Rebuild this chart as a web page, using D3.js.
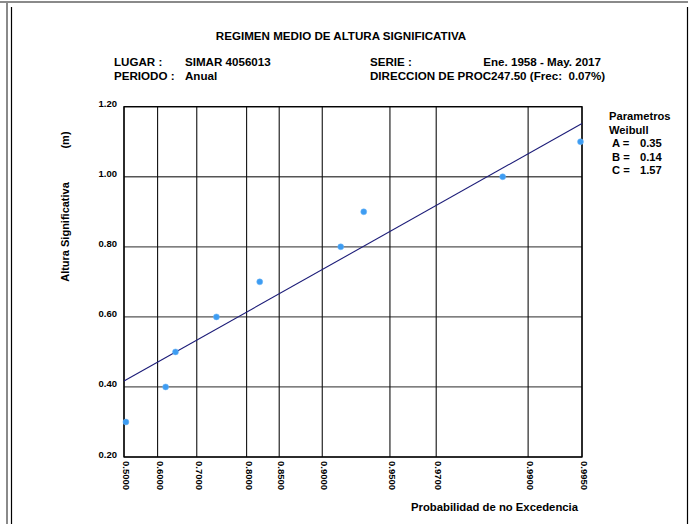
<!DOCTYPE html>
<html>
<head>
<meta charset="utf-8">
<script src="https://cdn.jsdelivr.net/npm/d3@7"></script>
<style>
  html, body { margin: 0; padding: 0; background: #fff; }
  svg { display: block; }
  text { font-family: "Liberation Sans", Arial, sans-serif; font-weight: bold; fill: #000; white-space: pre; }
</style>
</head>
<body>
<svg id="chart" width="692" height="524"></svg>
<script>
// ---- data ----
const titleText = "REGIMEN MEDIO DE ALTURA SIGNIFICATIVA";
const headerLeftLabels = ["LUGAR :", "PERIODO :"];
const headerLeftValues = ["SIMAR 4056013", "Anual"];
const headerRightLabels = ["SERIE :", "DIRECCION DE PROC247.50 (Frec:  0.07%)"];
const headerRightValues = ["Ene. 1958 - May. 2017", ""];

const xTickProbs = [0.5, 0.6, 0.7, 0.8, 0.85, 0.9, 0.95, 0.97, 0.99, 0.995];
const yTicks = [0.2, 0.4, 0.6, 0.8, 1.0, 1.2];

// observed points (probability of non-exceedance, Hs in m)
const pointProbs = [0.506, 0.622, 0.648, 0.743, 0.8215, 0.9167, 0.9341, 0.9863, 0.9949];
const pointHs    = [0.30, 0.40, 0.50, 0.60, 0.70, 0.80, 0.90, 1.00, 1.10];

// fitted Weibull line (end points)
const lineProbs = [0.5, 0.995];
const lineHs    = [0.417, 1.152];

const paramNames  = ["A =", "B =", "C ="];
const paramValues = ["0.35", "0.14", "1.57"];
const weibullC = 1.57;

// ---- drawing ----
const svg = d3.select("#chart");

// outer frame
svg.append("line").attr("x1", 0).attr("x2", 688).attr("y1", 2).attr("y2", 2)
  .attr("stroke", "#8a8a8a").attr("stroke-width", 2);
svg.append("line").attr("x1", 7).attr("x2", 7).attr("y1", 1).attr("y2", 524)
  .attr("stroke", "#8a8a8a").attr("stroke-width", 2);
svg.append("line").attr("x1", 11.5).attr("x2", 11.5).attr("y1", 7).attr("y2", 524)
  .attr("stroke", "#000").attr("stroke-width", 1.2);
svg.append("line").attr("x1", 687.5).attr("x2", 687.5).attr("y1", 7).attr("y2", 524)
  .attr("stroke", "#000").attr("stroke-width", 1.2);

const plot = { left: 124, right: 582, top: 106.7, bottom: 457 };

// Weibull probability paper transform
const tr = p => Math.pow(-Math.log(1 - p), 1 / weibullC);
const xLin = d3.scaleLinear()
  .domain([tr(xTickProbs[0]), tr(xTickProbs[xTickProbs.length - 1])])
  .range([plot.left, plot.right]);
const x = p => xLin(tr(p));
const y = d3.scaleLinear().domain([0.2, 1.2]).range([plot.bottom, plot.top]);

// title & header
svg.append("text").attr("x", 341).attr("y", 40).attr("text-anchor", "middle")
  .attr("font-size", 11.6).text(titleText);

const rowsY = [66, 80];
const hfs = 11.6;
headerLeftLabels.forEach((t, i) => {
  svg.append("text").attr("x", 114).attr("y", rowsY[i]).attr("font-size", hfs).text(t);
  svg.append("text").attr("x", 185).attr("y", rowsY[i]).attr("font-size", hfs).text(headerLeftValues[i]);
});
headerRightLabels.forEach((t, i) => {
  svg.append("text").attr("x", 370).attr("y", rowsY[i]).attr("font-size", hfs).text(t);
  if (headerRightValues[i]) {
    svg.append("text").attr("x", 601).attr("y", rowsY[i]).attr("text-anchor", "end")
      .attr("font-size", hfs).text(headerRightValues[i]);
  }
});

// gridlines
const g = svg.append("g");
g.selectAll("line.hgrid").data(yTicks).join("line").attr("class", "hgrid")
  .attr("x1", plot.left).attr("x2", plot.right)
  .attr("y1", d => y(d)).attr("y2", d => y(d))
  .attr("stroke", "#555").attr("stroke-width", 1.3);
g.selectAll("line.vgrid").data(xTickProbs).join("line").attr("class", "vgrid")
  .attr("x1", d => x(d)).attr("x2", d => x(d))
  .attr("y1", plot.top).attr("y2", plot.bottom)
  .attr("stroke", "#111").attr("stroke-width", 1.1);

// plot frame
svg.append("rect").attr("x", plot.left).attr("y", plot.top)
  .attr("width", plot.right - plot.left).attr("height", plot.bottom - plot.top)
  .attr("fill", "none").attr("stroke", "#000").attr("stroke-width", 1.3);

// y tick labels
svg.selectAll("text.ytick").data(yTicks).join("text").attr("class", "ytick")
  .attr("x", 117).attr("y", d => y(d) + 0.5).attr("text-anchor", "end")
  .attr("font-size", 9.5).text(d => d3.format(".2f")(d));

// x tick labels (rotated)
svg.selectAll("text.xtick").data(xTickProbs).join("text").attr("class", "xtick")
  .attr("transform", d => `translate(${x(d) - 1},461) rotate(90)`)
  .attr("font-size", 9.5).text(d => d3.format(".4f")(d));

// axis titles
svg.append("text").attr("transform", "translate(69,232) rotate(-90)")
  .attr("text-anchor", "middle").attr("font-size", 11).text("Altura Significativa");
svg.append("text").attr("transform", "translate(69,140) rotate(-90)")
  .attr("text-anchor", "middle").attr("font-size", 11).text("(m)");
svg.append("text").attr("x", 578).attr("y", 511).attr("text-anchor", "end")
  .attr("font-size", 11.3).text("Probabilidad de no Excedencia");

// fitted line
const lineData = lineProbs.map((p, i) => [p, lineHs[i]]);
svg.append("path").datum(lineData)
  .attr("d", d3.line().x(d => x(d[0])).y(d => y(d[1])))
  .attr("fill", "none").attr("stroke", "#1c1c78").attr("stroke-width", 1.1);

// points
const pts = pointProbs.map((p, i) => [p, pointHs[i]]);
svg.selectAll("circle.pt").data(pts).join("circle").attr("class", "pt")
  .attr("cx", d => x(d[0])).attr("cy", d => y(d[1])).attr("r", 3)
  .attr("fill", "#3d9cf2").attr("stroke", "#6fb6f7").attr("stroke-width", 0.5);

// legend
const lx = 609;
const lfs = 11.2;
svg.append("text").attr("x", lx).attr("y", 120).attr("font-size", lfs).text("Parametros");
svg.append("text").attr("x", lx).attr("y", 134).attr("font-size", lfs).text("Weibull");
paramNames.forEach((n, i) => {
  svg.append("text").attr("x", lx + 3).attr("y", 147 + i * 13.7).attr("font-size", lfs).text(n);
  svg.append("text").attr("x", lx + 31).attr("y", 147 + i * 13.7).attr("font-size", lfs).text(paramValues[i]);
});
</script>
</body>
</html>
